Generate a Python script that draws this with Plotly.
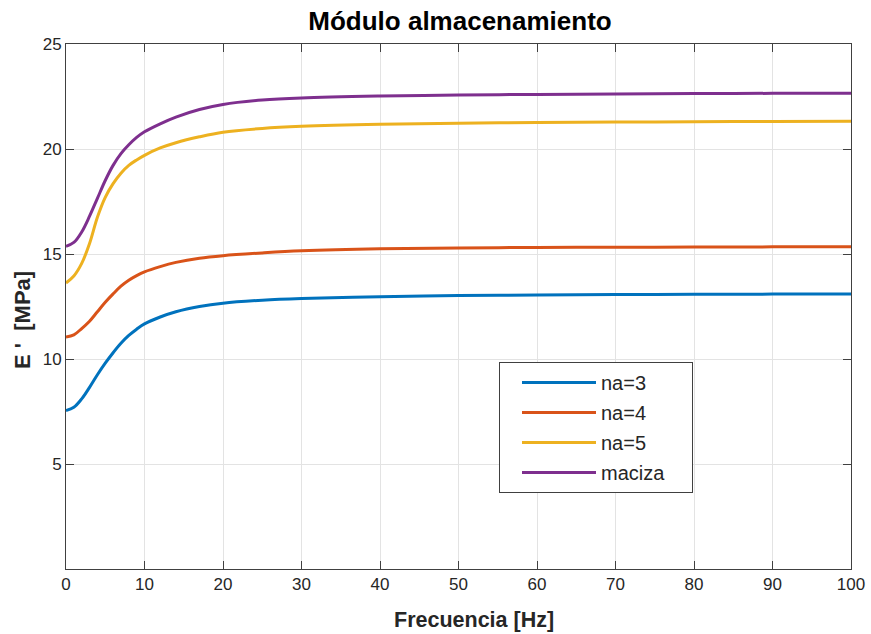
import plotly.graph_objects as go

freq = [0, 1, 2, 3, 4, 5, 6, 7, 8, 9, 10, 12, 14, 17, 20, 25, 30, 40, 50, 60, 70, 80, 90, 100]

na3 = [7.55, 7.7, 8.1, 8.65, 9.25, 9.8, 10.3, 10.75, 11.12, 11.42, 11.67, 12.0, 12.25, 12.5, 12.66, 12.8, 12.88, 12.97, 13.02, 13.05, 13.07, 13.08, 13.09, 13.1]
na4 = [11.05, 11.15, 11.45, 11.8, 12.25, 12.7, 13.1, 13.47, 13.75, 13.97, 14.15, 14.4, 14.6, 14.8, 14.92, 15.05, 15.15, 15.25, 15.29, 15.31, 15.32, 15.33, 15.34, 15.35]
na5 = [13.62, 13.95, 14.55, 15.5, 16.75, 17.7, 18.35, 18.85, 19.22, 19.48, 19.7, 20.05, 20.3, 20.58, 20.8, 20.98, 21.08, 21.18, 21.23, 21.26, 21.28, 21.3, 21.31, 21.32]
maciza = [15.37, 15.55, 16.05, 16.8, 17.65, 18.5, 19.22, 19.78, 20.2, 20.55, 20.82, 21.2, 21.52, 21.88, 22.12, 22.33, 22.43, 22.52, 22.57, 22.6, 22.62, 22.64, 22.65, 22.66]

series_names = ["na=3", "na=4", "na=5", "maciza"]
series_values = [na3, na4, na5, maciza]
colors = ["#0072BD", "#D95319", "#EDB120", "#7E2F8E"]

fig = go.Figure()
for name, vals, c in zip(series_names, series_values, colors):
    fig.add_trace(go.Scatter(
        x=freq, y=vals, mode="lines", name=name + "\u00a0" * 4, legendgroup=name,
        line=dict(color=c, width=3, shape="spline", smoothing=1.0),
    ))

font_family = "Liberation Sans, Arial, Helvetica, sans-serif"
axis_common = dict(
    showline=True, linecolor="#404040", linewidth=1, mirror="ticks",
    ticks="inside", ticklen=8, tickcolor="#404040", tickwidth=1,
    showgrid=True, gridcolor="#E3E3E3", gridwidth=1, zeroline=False,
    automargin=False,
    tickfont=dict(family=font_family, size=17, color="#262626"),
)

L, R, T, B = 66, 20, 44, 65
W, H = 871, 634
pw, ph = W - L - R, H - T - B

fig.update_layout(
    width=W, height=H,
    margin=dict(l=L, r=R, t=T, b=B, autoexpand=False),
    paper_bgcolor="white", plot_bgcolor="white",
    title=dict(text="<b>Módulo almacenamiento</b>", x=460 / W, xanchor="center",
               y=1 - 21 / H, yanchor="middle",
               font=dict(family=font_family, size=26, color="black")),
    xaxis=dict(range=[0, 100], tickvals=list(range(0, 101, 10)), **axis_common),
    yaxis=dict(range=[0, 25], tickvals=[5, 10, 15, 20, 25], **axis_common),
    legend=dict(x=(499 - L) / pw, y=(H - B - 362) / ph, xanchor="left", yanchor="top",
                bgcolor="white", bordercolor="#404040", borderwidth=1,
                font=dict(family=font_family, size=20, color="#262626"),
                tracegroupgap=1, itemwidth=74, indentation=17),
    showlegend=True,
    annotations=[
        dict(text="<b>Frecuencia [Hz]</b>", xref="paper", yref="paper",
             x=(474 - L) / pw, y=(H - B - 620) / ph, xanchor="center", yanchor="middle",
             showarrow=False, font=dict(family=font_family, size=21.5, color="#262626")),
        dict(text="<b>E '  [MPa]</b>", xref="paper", yref="paper", textangle=-90,
             x=(22 - L) / pw, y=(H - B - 320) / ph, xanchor="center", yanchor="middle",
             showarrow=False, font=dict(family=font_family, size=22, color="#262626")),
    ],
)

fig.write_html("out.html", config={"displayModeBar": False},
               post_script="document.body.style.margin='0';document.body.style.overflow='hidden';")
